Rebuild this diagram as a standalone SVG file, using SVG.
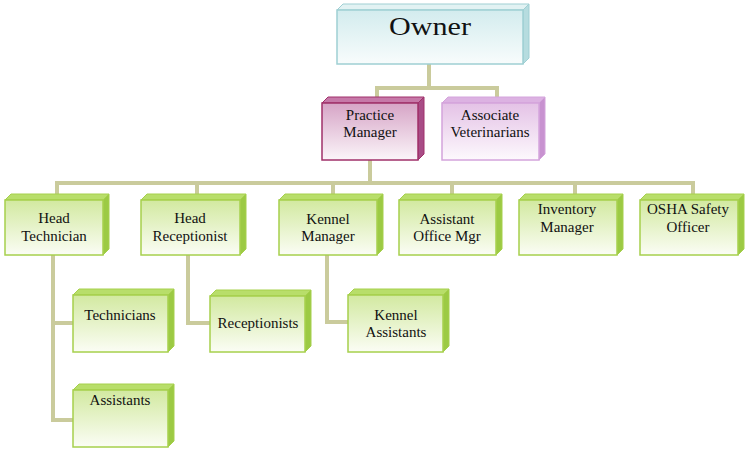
<svg xmlns="http://www.w3.org/2000/svg" width="747" height="453" viewBox="0 0 747 453" font-family="'Liberation Serif', 'Times New Roman', serif">
<defs>
<linearGradient id="gC" x1="0" y1="0" x2="0" y2="1"><stop offset="0" stop-color="#d3ecee"/><stop offset="1" stop-color="#f8fcfc"/></linearGradient>
<linearGradient id="gM" x1="0" y1="0" x2="0" y2="1"><stop offset="0" stop-color="#d6a4c6"/><stop offset="1" stop-color="#fbf5f9"/></linearGradient>
<linearGradient id="gP" x1="0" y1="0" x2="0" y2="1"><stop offset="0" stop-color="#e4c2e6"/><stop offset="1" stop-color="#fdf9fd"/></linearGradient>
<linearGradient id="gG" x1="0" y1="0" x2="0" y2="1"><stop offset="0" stop-color="#d2e9a0"/><stop offset="1" stop-color="#fbfdf5"/></linearGradient>
</defs>
<style>
text{font-family:'Liberation Serif','Times New Roman',serif;font-size:15px;fill:#111;text-anchor:middle}
.c{fill:none;stroke:#cacb9c;stroke-width:4}
.cf{fill:url(#gC);stroke:#9fcfd3;stroke-width:1.5}
.ct{fill:#e2f2f3;stroke:#9fcfd3;stroke-width:1}
.cs{fill:#b6dcdf;stroke:#9fcfd3;stroke-width:1}
.mf{fill:url(#gM);stroke:#a0306a;stroke-width:1.5}
.mt{fill:#c678a8;stroke:#a0306a;stroke-width:1}
.ms{fill:#a84c86;stroke:#a0306a;stroke-width:1}
.pf{fill:url(#gP);stroke:#d4a4dc;stroke-width:1.5}
.pt{fill:#dcb2e2;stroke:#d4a4dc;stroke-width:1}
.ps{fill:#c892d0;stroke:#d4a4dc;stroke-width:1}
.gf{fill:url(#gG);stroke:#a6d04c;stroke-width:1.5}
.gt{fill:#b8de6a;stroke:#a6d04c;stroke-width:1}
.gs{fill:#9cca44;stroke:#a6d04c;stroke-width:1}
</style>
<rect width="747" height="453" fill="#ffffff"/>
<g id="connectors">
<path class="c" d="M429,64V88M377,88H497M377,86V97M497,86V97"/>
<path class="c" d="M370,160V183M57,183H693M57,181V194M197,181V194M333,181V194M452,181V194M575,181V194M693,181V194"/>
<path class="c" d="M53,255V420M51,323H73M51,420H73"/>
<path class="c" d="M188,255V323H210"/>
<path class="c" d="M327,255V322H348"/>
</g>
<g id="owner">
<polygon class="ct" points="337,10 343,4 529,4 523,10"/>
<polygon class="cs" points="523,10 529,4 529,58 523,64"/>
<rect class="cf" x="337" y="10" width="186" height="54"/>
<text x="430" y="35" style="font-size:26px" textLength="82" lengthAdjust="spacingAndGlyphs">Owner</text>
</g>
<g id="practice-manager">
<polygon class="mt" points="322,103 328,97 424,97 418,103"/>
<polygon class="ms" points="418,103 424,97 424,154 418,160"/>
<rect class="mf" x="322" y="103" width="96" height="57"/>
<text x="370" y="120">Practice</text><text x="370" y="137">Manager</text>
</g>
<g id="associate-vets">
<polygon class="pt" points="442,103 448,97 545,97 539,103"/>
<polygon class="ps" points="539,103 545,97 545,154 539,160"/>
<rect class="pf" x="442" y="103" width="97" height="57"/>
<text x="490" y="120">Associate</text><text x="490" y="137">Veterinarians</text>
</g>
<g id="head-technician">
<polygon class="gt" points="5,200 11,194 109,194 103,200"/>
<polygon class="gs" points="103,200 109,194 109,249 103,255"/>
<rect class="gf" x="5" y="200" width="98" height="55"/>
<text x="54" y="223">Head</text><text x="54" y="241">Technician</text>
</g>
<g id="head-receptionist">
<polygon class="gt" points="141,200 147,194 246,194 240,200"/>
<polygon class="gs" points="240,200 246,194 246,249 240,255"/>
<rect class="gf" x="141" y="200" width="99" height="55"/>
<text x="190" y="223">Head</text><text x="190" y="241">Receptionist</text>
</g>
<g id="kennel-manager">
<polygon class="gt" points="279,200 285,194 383,194 377,200"/>
<polygon class="gs" points="377,200 383,194 383,249 377,255"/>
<rect class="gf" x="279" y="200" width="98" height="55"/>
<text x="328" y="224">Kennel</text><text x="328" y="241">Manager</text>
</g>
<g id="assistant-office-mgr">
<polygon class="gt" points="399,200 405,194 502,194 496,200"/>
<polygon class="gs" points="496,200 502,194 502,249 496,255"/>
<rect class="gf" x="399" y="200" width="97" height="55"/>
<text x="447" y="224">Assistant</text><text x="447" y="241">Office Mgr</text>
</g>
<g id="inventory-manager">
<polygon class="gt" points="519,200 525,194 623,194 617,200"/>
<polygon class="gs" points="617,200 623,194 623,249 617,255"/>
<rect class="gf" x="519" y="200" width="98" height="55"/>
<text x="567" y="214">Inventory</text><text x="567" y="232">Manager</text>
</g>
<g id="osha-safety-officer">
<polygon class="gt" points="640,200 646,194 744,194 738,200"/>
<polygon class="gs" points="738,200 744,194 744,249 738,255"/>
<rect class="gf" x="640" y="200" width="98" height="55"/>
<text x="688" y="214">OSHA Safety</text><text x="688" y="232">Officer</text>
</g>
<g id="technicians">
<polygon class="gt" points="73,295 79,289 174,289 168,295"/>
<polygon class="gs" points="168,295 174,289 174,346 168,352"/>
<rect class="gf" x="73" y="295" width="95" height="57"/>
<text x="120" y="320">Technicians</text>
</g>
<g id="assistants">
<polygon class="gt" points="73,390 79,384 174,384 168,390"/>
<polygon class="gs" points="168,390 174,384 174,441 168,447"/>
<rect class="gf" x="73" y="390" width="95" height="57"/>
<text x="120" y="405">Assistants</text>
</g>
<g id="receptionists">
<polygon class="gt" points="210,296 216,290 311,290 305,296"/>
<polygon class="gs" points="305,296 311,290 311,346 305,352"/>
<rect class="gf" x="210" y="296" width="95" height="56"/>
<text x="258" y="328">Receptionists</text>
</g>
<g id="kennel-assistants">
<polygon class="gt" points="348,295 354,289 449,289 443,295"/>
<polygon class="gs" points="443,295 449,289 449,346 443,352"/>
<rect class="gf" x="348" y="295" width="95" height="57"/>
<text x="396" y="320">Kennel</text><text x="396" y="337">Assistants</text>
</g>
</svg>
